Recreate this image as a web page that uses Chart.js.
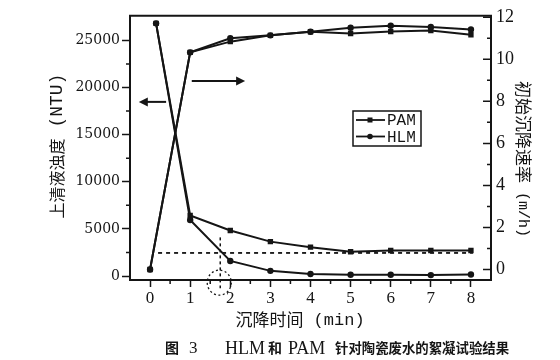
<!DOCTYPE html>
<html><head><meta charset="utf-8">
<script src="https://cdn.jsdelivr.net/npm/chart.js@4.4.1/dist/chart.umd.min.js"></script>
<style>html,body{margin:0;padding:0;background:#fff;}#wrap{width:560px;height:360px;}</style>
</head><body><div id="wrap"><canvas id="c" width="560" height="360"></canvas></div>
<script>
// ---- data ----
const rateTime = [0, 1, 2, 3, 4, 5, 6, 7, 8];
const turbTime = [0.15, 1, 2, 3, 4, 5, 6, 7, 8];
const turbidityPAM = [26800, 6430, 4830, 3650, 3060, 2570, 2710, 2710, 2710];
const turbidityHLM = [26800, 5940, 1600, 550, 210, 140, 140, 100, 170];
const ratePAM = [0, 10.33, 10.84, 11.14, 11.31, 11.23, 11.32, 11.37, 11.17];
const rateHLM = [0, 10.33, 11.0, 11.14, 11.31, 11.5, 11.6, 11.54, 11.42];
const seriesNames = ['PAM', 'HLM'];
const xTicks = [0, 1, 2, 3, 4, 5, 6, 7, 8];
const xMinor = [0.5, 1.5, 2.5, 3.5, 4.5, 5.5, 6.5, 7.5];
const leftTicks = [0, 5000, 10000, 15000, 20000, 25000];
const leftMinor = [2500, 7500, 12500, 17500, 22500];
const rightTicks = [0, 2, 4, 6, 8, 10, 12];
const rightMinor = [1, 3, 5, 7, 9, 11];
const targetLevel = [2450, 2450];
const targetSpan = [0.2, 8.05];
const markTime = [1.75, 1.75];
const markLevel = [4100, -1300];
const xTitle = ['沉降时间', ' (min)'];
const leftTitle = ['上清液浊度', ' (NTU)'];
const rightTitle = ['初始沉降速率', ' (m/h)'];

const INK = '#151515';
const CJK = '"Noto Sans CJK SC"';
const pts = (xs, ys) => xs.map((x, i) => ({x, y: ys[i]}));

const deco = {
  id: 'deco',
  afterDraw(chart) {
    const ctx = chart.ctx, a = chart.chartArea;
    const sx = chart.scales.x, sl = chart.scales.yL, sr = chart.scales.yR;
    ctx.save();
    ctx.strokeStyle = INK; ctx.fillStyle = INK;
    // top frame
    ctx.lineWidth = 2;
    ctx.beginPath(); ctx.moveTo(a.left - 1, a.top); ctx.lineTo(a.right + 1, a.top); ctx.stroke();
    // minor ticks
    ctx.lineWidth = 1.5;
    ctx.beginPath();
    leftMinor.forEach(v => { const y = sl.getPixelForValue(v); ctx.moveTo(a.left - 4, y); ctx.lineTo(a.left, y); });
    xMinor.forEach(v => { const x = sx.getPixelForValue(v); ctx.moveTo(x, a.bottom); ctx.lineTo(x, a.bottom + 4); });
    rightTicks.forEach(v => { const y = sr.getPixelForValue(v); ctx.moveTo(a.right, y); ctx.lineTo(a.right - 8, y); });
    rightMinor.forEach(v => { const y = sr.getPixelForValue(v); ctx.moveTo(a.right, y); ctx.lineTo(a.right - 4, y); });
    ctx.stroke();
    // arrows
    const arrow = (x1, x2, y) => {
      const dir = Math.sign(x2 - x1);
      ctx.lineWidth = 2;
      ctx.beginPath(); ctx.moveTo(x1, y); ctx.lineTo(x2 - dir * 6, y); ctx.stroke();
      ctx.beginPath(); ctx.moveTo(x2, y); ctx.lineTo(x2 - dir * 9, y - 4.5); ctx.lineTo(x2 - dir * 9, y + 4.5); ctx.closePath(); ctx.fill();
    };
    arrow(sx.getPixelForValue(0.4), sx.getPixelForValue(-0.28), sl.getPixelForValue(18470));
    arrow(sx.getPixelForValue(1.04), sx.getPixelForValue(2.37), sr.getPixelForValue(8.97));
    // dotted ellipse
    ctx.lineWidth = 1.3; ctx.setLineDash([2, 2.5]);
    ctx.beginPath();
    ctx.ellipse(sx.getPixelForValue(1.725), sl.getPixelForValue(-700), 12, 12.5, 0, 0, Math.PI * 2);
    ctx.stroke(); ctx.setLineDash([]);
    // legend
    ctx.lineWidth = 1.5;
    ctx.strokeRect(353, 111, 68, 35);
    seriesNames.forEach((n, i) => {
      const y = 120 + i * 16.5;
      ctx.lineWidth = 1.8;
      ctx.beginPath(); ctx.moveTo(356, y); ctx.lineTo(385, y); ctx.stroke();
      if (i === 0) ctx.fillRect(367.5, y - 2.5, 5, 5);
      else { ctx.beginPath(); ctx.arc(370, y, 2.8, 0, Math.PI * 2); ctx.fill(); }
      ctx.font = '16px "Liberation Mono"'; ctx.textBaseline = 'middle'; ctx.textAlign = 'left';
      ctx.fillText(n, 387, y + 1);
    });
    // titles
    const runs = (parts, fonts, cx, cy, rot) => {
      ctx.save(); ctx.translate(cx, cy); ctx.rotate(rot);
      ctx.textBaseline = 'middle'; ctx.textAlign = 'left';
      let w = 0; parts.forEach((p, i) => { ctx.font = fonts[i]; w += ctx.measureText(p).width; });
      let x = -w / 2;
      parts.forEach((p, i) => { ctx.font = fonts[i]; ctx.fillText(p, x, 0); x += ctx.measureText(p).width; });
      ctx.restore();
    };
    runs(xTitle, ['17px ' + CJK, '17px "Liberation Mono"'], 300, 320, 0);
    runs(leftTitle, ['16px ' + CJK, '18px "Liberation Mono"'], 57, 146, -Math.PI / 2);
    runs(rightTitle, ['17px ' + CJK, '15px "Liberation Mono"'], 523, 159, Math.PI / 2);
    // caption
    ctx.textBaseline = 'middle'; ctx.textAlign = 'left';
    const cy = 348;
    ctx.font = 'bold 14px ' + CJK; ctx.fillText('图', 165, cy);
    ctx.font = '17px "Liberation Serif"'; ctx.fillText('3', 189, cy + 1);
    ctx.font = '18px "Liberation Serif"'; ctx.fillText('HLM', 225, cy + 1);
    ctx.font = 'bold 14px ' + CJK; ctx.fillText('和', 268, cy);
    ctx.font = '18px "Liberation Serif"'; ctx.fillText('PAM', 288, cy + 1);
    ctx.font = 'bold 13.4px ' + CJK; ctx.fillText('针对陶瓷废水的絮凝试验结果', 335, cy);
    ctx.restore();
  }
};

const mk = (label, data, axis, style) => ({
  label, data, yAxisID: axis, borderColor: INK, backgroundColor: INK, borderWidth: 2,
  pointStyle: style, pointRadius: style === 'rect' ? 3.8 : 3.2, pointBorderWidth: 0, tension: 0
});

new Chart(document.getElementById('c'), {
  type: 'line',
  data: {
    datasets: [
      mk('PAM', pts(turbTime, turbidityPAM), 'yL', 'rect'),
      mk('HLM', pts(turbTime, turbidityHLM), 'yL', 'circle'),
      mk('PAM', pts(rateTime, ratePAM), 'yR', 'rect'),
      mk('HLM', pts(rateTime, rateHLM), 'yR', 'circle'),
      { label: 'ref', data: pts(targetSpan, targetLevel), yAxisID: 'yL', borderColor: INK, borderWidth: 1.8, borderDash: [4, 4], pointRadius: 0 },
      { label: 'mark', data: pts(markTime, markLevel), yAxisID: 'yL', borderColor: INK, borderWidth: 1.5, borderDash: [3, 3], pointRadius: 0, clip: false }
    ]
  },
  options: {
    responsive: false, animation: false, devicePixelRatio: 1,
    layout: { padding: { top: 11, left: 0, right: 0, bottom: 0 } },
    plugins: { legend: { display: false }, tooltip: { enabled: false } },
    scales: {
      x: {
        type: 'linear', min: -0.5, max: 8.5,
        afterBuildTicks: s => { s.ticks = xTicks.map(v => ({value: v})); },
        afterFit: s => { s.height = 80; },
        ticks: { color: INK, font: { family: 'Liberation Serif', size: 17 }, padding: 1, callback: v => String(v) },
        grid: { drawOnChartArea: false, drawTicks: true, tickLength: 7, tickColor: INK, tickWidth: 1.5 },
        border: { display: true, color: INK, width: 2 }
      },
      yL: {
        type: 'linear', position: 'left', min: -420, max: 27600,
        afterBuildTicks: s => { s.ticks = leftTicks.map(v => ({value: v})); },
        afterFit: s => { s.width = 130; },
        ticks: { color: INK, font: { family: 'DejaVu Serif', size: 14 }, padding: 2, callback: v => String(v) },
        grid: { drawOnChartArea: false, drawTicks: true, tickLength: 8, tickColor: INK, tickWidth: 1.5 },
        border: { display: true, color: INK, width: 2 }
      },
      yR: {
        type: 'linear', position: 'right', min: -0.5, max: 12.07,
        afterBuildTicks: s => { s.ticks = rightTicks.map(v => ({value: v})); },
        afterFit: s => { s.width = 69; },
        ticks: { color: INK, font: { family: 'Liberation Serif', size: 18 }, padding: 5, callback: v => String(v) },
        grid: { drawOnChartArea: false, drawTicks: false },
        border: { display: true, color: INK, width: 2 }
      }
    }
  },
  plugins: [deco]
});
</script>
</body></html>
